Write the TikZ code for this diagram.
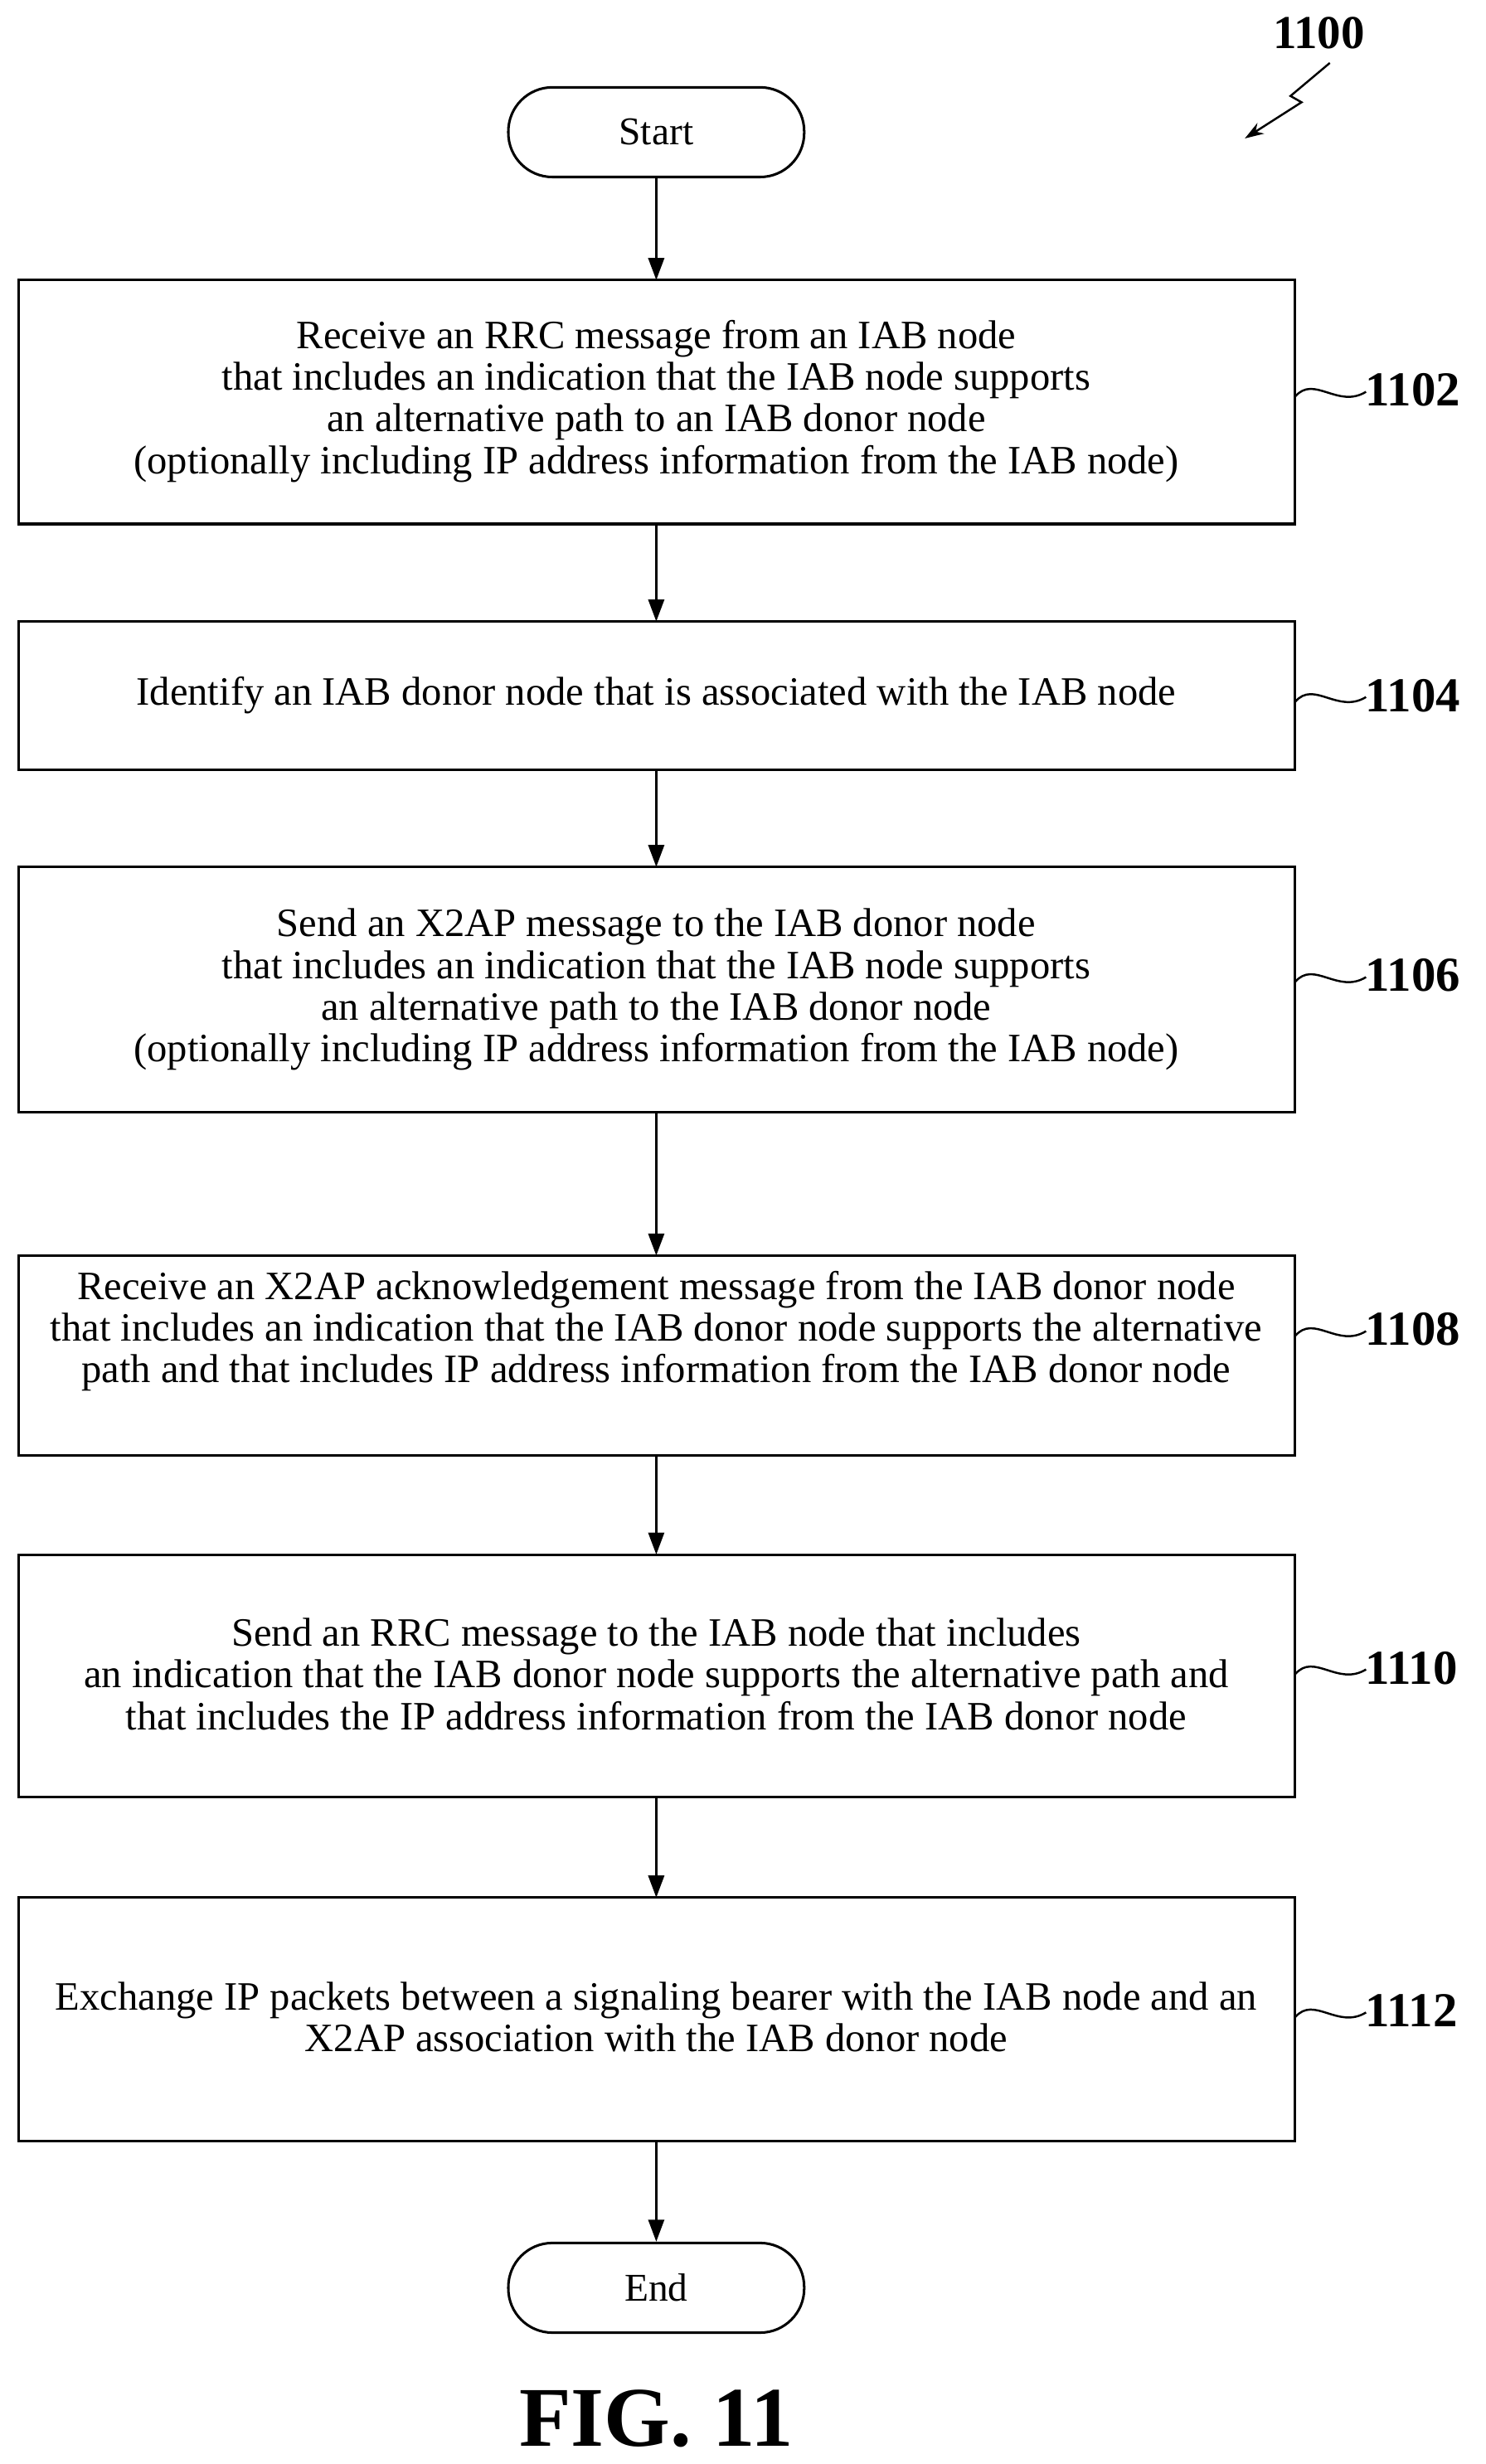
\documentclass[tikz,border=0pt]{standalone}
\usepackage{fontspec}
\setmainfont{Liberation Serif}
\usetikzlibrary{arrows.meta}
\begin{document}
\begin{tikzpicture}[x=1pt,y=-1pt,
  box/.style={draw,line width=1.6pt,align=center,font=\fontsize{25.6}{26.5}\selectfont},
  pill/.style={draw,line width=1.6pt,rounded corners=28pt,minimum width=188pt,minimum height=57pt,font=\fontsize{25}{26}\selectfont},
  arr/.style={line width=1.6pt,-{Triangle[length=14pt,width=10pt]}},
  lab/.style={font=\bfseries\fontsize{31}{32}\selectfont,anchor=west},
  wav/.style={line width=1.3pt}]
\useasboundingbox (0,0) rectangle (944,1566);
\node[pill] (s) at (417,84) {Start};
\draw[line width=1.6pt] (12,178) rectangle (823,333);
\node[box,draw=none] (b1) at (417,255) {Receive an RRC message from an IAB node\\that includes an indication that the IAB node supports\\an alternative path to an IAB donor node\\(optionally including IP address information from the IAB node)};
\draw[line width=1.6pt] (12,395) rectangle (823,489);
\node[box,draw=none] (b2) at (417,442) {Identify an IAB donor node that is associated with the IAB node};
\draw[line width=1.6pt] (12,551) rectangle (823,707);
\node[box,draw=none] (b3) at (417,629) {Send an X2AP message to the IAB donor node\\that includes an indication that the IAB node supports\\an alternative path to the IAB donor node\\(optionally including IP address information from the IAB node)};
\draw[line width=1.6pt] (12,798) rectangle (823,925);
\node[box,draw=none] (b4) at (417,846) {Receive an X2AP acknowledgement message from the IAB donor node\\that includes an indication that the IAB donor node supports the alternative\\path and that includes IP address information from the IAB donor node};
\draw[line width=1.6pt] (12,988) rectangle (823,1142);
\node[box,draw=none] (b5) at (417,1064) {Send an RRC message to the IAB node that includes\\an indication that the IAB donor node supports the alternative path and\\that includes the IP address information from the IAB donor node};
\draw[line width=1.6pt] (12,1206) rectangle (823,1361);
\node[box,draw=none] (b6) at (417,1282) {Exchange IP packets between a signaling bearer with the IAB node and an\\X2AP association with the IAB donor node};
\node[pill] (e) at (417,1454) {End};
\coordinate (t1) at (417,178); \coordinate (u1) at (417,333);
\coordinate (t2) at (417,395); \coordinate (u2) at (417,489);
\coordinate (t3) at (417,551); \coordinate (u3) at (417,707);
\coordinate (t4) at (417,798); \coordinate (u4) at (417,925);
\coordinate (t5) at (417,988); \coordinate (u5) at (417,1142);
\coordinate (t6) at (417,1206); \coordinate (u6) at (417,1361);
\draw[arr] (s) -- (t1);
\draw[arr] (u1) -- (t2);
\draw[arr] (u2) -- (t3);
\draw[arr] (u3) -- (t4);
\draw[arr] (u4) -- (t5);
\draw[arr] (u5) -- (t6);
\draw[arr] (u6) -- (e);
\foreach \y/\t in {248/1102,442/1104,620/1106,845/1108,1060/1110,1278/1112}{
  \draw[wav] (823,\y+4) .. controls (835,\y-10) and (850,\y+12) .. (868,\y+1);
  \node[lab] (l\t) at (864,\y) {\t};
}
\node[font=\bfseries\fontsize{30}{31}\selectfont] (n1100) at (838,21) {1100};
\draw[line width=1.3pt,-{Stealth[length=12pt,width=8pt]}] (845,40) -- (820,61) -- (827,65) -- (791,88);
\node[font=\bfseries\fontsize{54}{56}\selectfont] (fig) at (417,1537) {FIG. 11};
\end{tikzpicture}
\end{document}
